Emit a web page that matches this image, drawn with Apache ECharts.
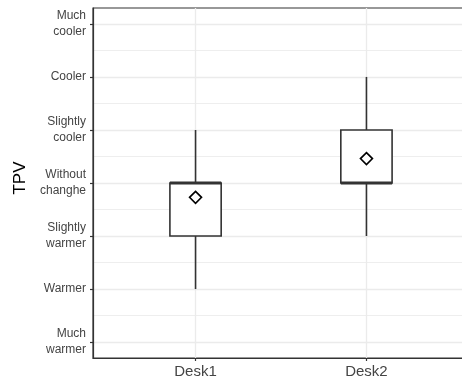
<!DOCTYPE html>
<html><head><meta charset="utf-8">
<script src="https://cdn.jsdelivr.net/npm/echarts@6/dist/echarts.min.js"></script>
<style>html,body{margin:0;padding:0;background:#fff}#c{width:462px;height:380px}</style>
</head><body><div id="c"></div>
<script>
const categories = ['Desk1', 'Desk2'];
const yLevels = ['Much\nwarmer', 'Warmer', 'Slightly\nwarmer', 'Without\nchanghe', 'Slightly\ncooler', 'Cooler', 'Much\ncooler'];
const yValues = [-3, -2, -1, 0, 1, 2, 3];
const yMinor = [-2.5, -1.5, -0.5, 0.5, 1.5, 2.5];
const whiskerLow = [-2, -1];
const q1 = [-1, 0];
const median = [0, 0];
const q3 = [0, 1];
const whiskerHigh = [1, 2];
const means = [-0.27, 0.46];
const xPos = categories.map((c, i) => i + 1);

const FONT = '"Liberation Sans", Arial, Helvetica, sans-serif';
const chart = echarts.init(document.getElementById('c'), null, {renderer: 'canvas'});

const boxData = categories.map((c, i) => [xPos[i], whiskerLow[i], q1[i], median[i], q3[i], whiskerHigh[i]]);

function renderBox(params, api) {
  const x = api.value(0);
  const pLo = api.coord([x, api.value(1)]);
  const pQ1 = api.coord([x, api.value(2)]);
  const pMed = api.coord([x, api.value(3)]);
  const pQ3 = api.coord([x, api.value(4)]);
  const pHi = api.coord([x, api.value(5)]);
  const halfW = api.size([0.3, 0])[0] / 2;
  const cx = pMed[0];
  const stroke = '#333333';
  return {
    type: 'group',
    children: [
      {type: 'line', shape: {x1: cx, y1: pQ3[1], x2: cx, y2: pHi[1]}, style: {stroke: stroke, lineWidth: 1.6}},
      {type: 'line', shape: {x1: cx, y1: pQ1[1], x2: cx, y2: pLo[1]}, style: {stroke: stroke, lineWidth: 1.6}},
      {type: 'rect', shape: {x: cx - halfW, y: pQ3[1], width: 2 * halfW, height: pQ1[1] - pQ3[1]},
        style: {fill: '#ffffff', stroke: stroke, lineWidth: 1.6}},
      {type: 'line', shape: {x1: cx - halfW, y1: pMed[1], x2: cx + halfW, y2: pMed[1]}, style: {stroke: stroke, lineWidth: 3}}
    ]
  };
}

const option = {
  animation: false,
  backgroundColor: '#ffffff',
  textStyle: {fontFamily: FONT},
  grid: {left: 93, top: 8, right: -7, bottom: 22, show: true, borderColor: '#333333', borderWidth: 1.2,
    backgroundColor: 'transparent', outerBoundsMode: 'none', containLabel: false},
  xAxis: {
    type: 'value', min: 0.4, max: 2.6,
    axisLine: {show: true, onZero: false, lineStyle: {color: '#333333', width: 1.2}},
    axisTick: {show: true, length: 3, customValues: xPos, lineStyle: {color: '#333333', width: 1.2}},
    axisLabel: {customValues: xPos, formatter: v => categories[Math.round(v) - 1], color: '#444444', fontSize: 15, margin: 6, fontFamily: FONT},
    splitLine: {show: true, lineStyle: {color: '#ebebeb', width: 1.3}}
  },
  yAxis: [{
    type: 'value', min: -3.3, max: 3.3,
    name: 'TPV', nameLocation: 'middle', nameGap: 61, nameRotate: 90,
    nameTextStyle: {fontSize: 17, color: '#000000', fontFamily: FONT, padding: [0, 0, 0, 10]},
    axisLine: {show: true, onZero: false, lineStyle: {color: '#333333', width: 1.2}},
    axisTick: {show: true, length: 3, customValues: yValues, lineStyle: {color: '#333333', width: 1.2}},
    axisLabel: {customValues: yValues, formatter: v => yLevels[yValues.indexOf(Math.round(v))],
      color: '#444444', fontSize: 12, lineHeight: 16, margin: 7, align: 'right', fontFamily: FONT},
    splitLine: {show: true, lineStyle: {color: '#ebebeb', width: 1.3}}
  }, {
    type: 'value', min: -3.3, max: 3.3, position: 'left',
    axisLine: {show: false, onZero: false},
    axisTick: {show: false, customValues: yMinor},
    axisLabel: {show: false},
    splitLine: {show: true, lineStyle: {color: '#eeeeee', width: 1}}
  }],
  series: [{
    type: 'custom', renderItem: renderBox, data: boxData, z: 3,
    encode: {x: 0, y: [1, 2, 3, 4, 5]}, clip: false
  }, {
    type: 'scatter', data: means.map((m, i) => [xPos[i], m]), symbol: 'diamond', symbolSize: 12, z: 5,
    itemStyle: {color: '#ffffff', borderColor: '#000000', borderWidth: 1.6, opacity: 1}
  }]
};
chart.setOption(option);
</script></body></html>
